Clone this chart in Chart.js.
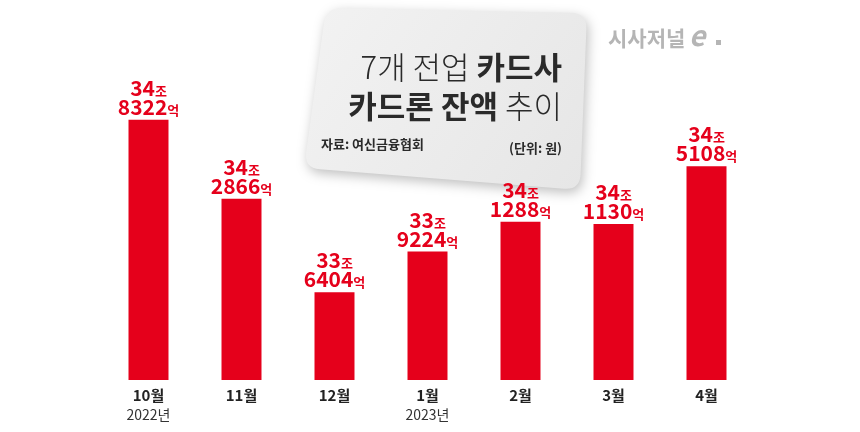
<!DOCTYPE html>
<html><head><meta charset="utf-8">
<script src="https://cdn.jsdelivr.net/npm/chart.js@4"></script>
<style>body{margin:0;background:#fff}#wrap{width:860px;height:432px;position:relative}</style>
</head><body><div id="wrap"><canvas id="c"></canvas></div>
<script>
const months = ['10월', '11월', '12월', '1월', '2월', '3월', '4월'];
const years = ['2022년', '', '', '2023년', '', '', ''];
const values = [348322, 342866, 336404, 339224, 341288, 341130, 345108]; // 억원
const FONT = '"Noto Sans CJK KR", sans-serif';
const RED = '#e5001b';

function roundPoly(ctx, pts, r) {
    ctx.beginPath();
    const n = pts.length;
    for (let i = 0; i < n; i++) {
        const p0 = pts[(i + n - 1) % n], p1 = pts[i], p2 = pts[(i + 1) % n];
        const a = Math.hypot(p0[0] - p1[0], p0[1] - p1[1]);
        const b = Math.hypot(p2[0] - p1[0], p2[1] - p1[1]);
        const s = [p1[0] + (p0[0] - p1[0]) * r / a, p1[1] + (p0[1] - p1[1]) * r / a];
        const e = [p1[0] + (p2[0] - p1[0]) * r / b, p1[1] + (p2[1] - p1[1]) * r / b];
        if (i === 0) ctx.moveTo(s[0], s[1]); else ctx.lineTo(s[0], s[1]);
        ctx.quadraticCurveTo(p1[0], p1[1], e[0], e[1]);
    }
    ctx.closePath();
}

function twoSize(ctx, big, small, cx, y) {
    ctx.font = 'bold 21px ' + FONT;
    const w1 = ctx.measureText(big).width;
    ctx.font = 'bold 13px ' + FONT;
    const w2 = ctx.measureText(small).width;
    const x = cx - (w1 + w2) / 2;
    ctx.textAlign = 'left';
    ctx.font = 'bold 21px ' + FONT;
    ctx.fillText(big, x, y);
    ctx.font = 'bold 13px ' + FONT;
    ctx.fillText(small, x + w1, y);
}

const decor = {
    id: 'decor',
    beforeDatasetsDraw(chart) {
        const ctx = chart.ctx;
        ctx.save();
        ctx.shadowColor = 'rgba(0,0,0,0.25)';
        ctx.shadowBlur = 12;
        ctx.shadowOffsetX = 2;
        ctx.shadowOffsetY = 4;
        const g = ctx.createLinearGradient(320, 10, 580, 190);
        g.addColorStop(0, '#f2f2f2');
        g.addColorStop(1, '#e6e6e6');
        ctx.fillStyle = g;
        roundPoly(ctx, [[326, 8], [587, 13], [580, 190], [304, 168]], 16);
        ctx.fill();
        ctx.shadowColor = 'transparent';
        ctx.fillStyle = '#2a2a2a';
        ctx.textAlign = 'right';
        ctx.font = 'bold 31px ' + FONT;
        const bw = ctx.measureText('카드사').width;
        ctx.fillText('카드사', 562, 79);
        ctx.font = '300 31px ' + FONT;
        ctx.fillText('7개 전업 ', 562 - bw, 79);
        const tw = ctx.measureText('추이').width;
        ctx.fillText('추이', 562, 118);
        ctx.font = 'bold 31px ' + FONT;
        ctx.fillText('카드론 잔액 ', 562 - tw, 118);
        ctx.font = 'bold 13px ' + FONT;
        ctx.textAlign = 'left';
        ctx.fillText('자료: 여신금융협회', 321, 149);
        ctx.textAlign = 'right';
        ctx.fillText('(단위: 원)', 562, 153);
        // logo
        ctx.fillStyle = '#b5b5b5';
        ctx.font = 'bold 21px ' + FONT;
        ctx.textAlign = 'left';
        ctx.fillText('시사저널', 608, 46);
        ctx.font = 'bold italic 28px ' + FONT;
        ctx.fillText('e', 689, 46);
        ctx.fillRect(716, 40, 5, 5);
        ctx.restore();
    },
    afterDatasetsDraw(chart) {
        const ctx = chart.ctx;
        const meta = chart.getDatasetMeta(0);
        ctx.save();
        meta.data.forEach((bar, i) => {
            const v = values[i];
            ctx.fillStyle = RED;
            twoSize(ctx, String(Math.floor(v / 10000)), '조', bar.x, bar.y - 24);
            twoSize(ctx, String(v % 10000), '억', bar.x, bar.y - 5);
            ctx.textAlign = 'center';
            ctx.fillStyle = '#222';
            ctx.font = 'bold 15px ' + FONT;
            ctx.fillText(months[i], bar.x, 401);
            if (years[i]) {
                ctx.font = '14px ' + FONT;
                ctx.fillStyle = '#333';
                ctx.fillText(years[i], bar.x, 420);
            }
        });
        ctx.restore();
    }
};

new Chart(document.getElementById('c'), {
    type: 'bar',
    data: {
        labels: months,
        datasets: [{ data: values, backgroundColor: RED, barPercentage: 0.86, categoryPercentage: 0.5 }]
    },
    options: {
        responsive: true,
        maintainAspectRatio: false,
        animation: false,
        layout: { padding: { left: 102, right: 107, top: 0, bottom: 52 } },
        plugins: { legend: { display: false }, tooltip: { enabled: false } },
        scales: {
            x: { display: false },
            y: { display: false, min: 330350, max: 356600 }
        }
    },
    plugins: [decor]
});
</script></body></html>
